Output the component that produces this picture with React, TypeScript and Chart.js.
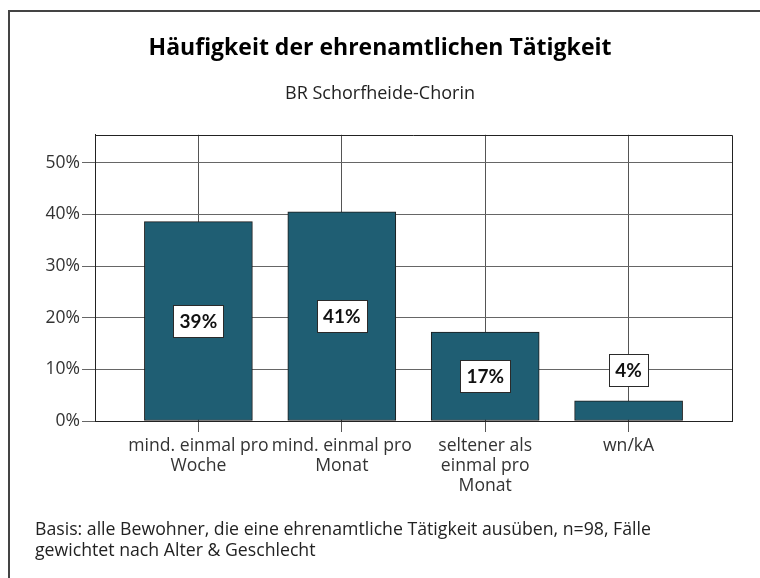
import React, { useEffect, useRef } from "react";
import { Chart, registerables } from "chart.js";

Chart.register(...registerables);

const categories: string[][] = [
  ["mind. einmal pro", "Woche"],
  ["mind. einmal pro", "Monat"],
  ["seltener als", "einmal pro", "Monat"],
  ["wn/kA"],
];
const values: number[] = [38.6, 40.5, 17.2, 3.9];
const valueLabels: string[] = ["39%", "41%", "17%", "4%"];
const yTickValues: number[] = [0, 10, 20, 30, 40, 50];
const titleText = "Häufigkeit der ehrenamtlichen Tätigkeit";
const subtitleText = "BR Schorfheide-Chorin";
const footerLines: string[] = [
  "Basis: alle Bewohner, die eine ehrenamtliche Tätigkeit ausüben, n=98, Fälle",
  "gewichtet nach Alter & Geschlecht",
];

const FONT = "'Open Sans', Lato, sans-serif";
const LABEL_FONT = "Lato, 'Open Sans', sans-serif";

const decorPlugin = {
  id: "decor",
  afterDatasetsDraw(chart: any) {
    const ctx = chart.ctx;
    const meta = chart.getDatasetMeta(0);
    ctx.save();
    ctx.font = `bold 19px ${LABEL_FONT}`;
    ctx.textAlign = "center";
    ctx.textBaseline = "middle";
    meta.data.forEach((bar: any, i: number) => {
      const { x, y, base } = bar.getProps(["x", "y", "base"], true);
      const text = valueLabels[i];
      const w = Math.round(ctx.measureText(text).width + 12);
      const h = 32;
      let cy = (y + base) / 2;
      if (base - y < h + 10) cy = y - 15 - h / 2;
      const left = Math.round(x - w / 2) + 0.5;
      const top = Math.round(cy - h / 2) + 0.5;
      ctx.fillStyle = "#ffffff";
      ctx.fillRect(left, top, w, h);
      ctx.strokeStyle = "#2a2a2a";
      ctx.lineWidth = 1;
      ctx.strokeRect(left, top, w, h);
      ctx.fillStyle = "#111111";
      ctx.fillText(text, x, cy + 1);
    });
    ctx.restore();
  },
  afterDraw(chart: any) {
    const ctx = chart.ctx;
    const a = chart.chartArea;
    ctx.save();
    ctx.strokeStyle = "#222222";
    ctx.lineWidth = 1;
    ctx.beginPath();
    ctx.moveTo(a.left, Math.round(a.top) + 0.5);
    ctx.lineTo(Math.round(a.right) + 0.5, Math.round(a.top) + 0.5);
    ctx.lineTo(Math.round(a.right) + 0.5, a.bottom);
    ctx.stroke();
    ctx.strokeStyle = "#444444";
    ctx.lineWidth = 2;
    ctx.beginPath();
    ctx.moveTo(9, chart.height);
    ctx.lineTo(9, 11);
    ctx.lineTo(chart.width, 11);
    ctx.stroke();
    ctx.fillStyle = "#222222";
    ctx.font = `17.7px ${FONT}`;
    ctx.textAlign = "left";
    ctx.textBaseline = "middle";
    footerLines.forEach((line, i) => {
      ctx.fillText(line, 35, 530 + i * 21);
    });
    ctx.restore();
  },
};

export default function App() {
  const ref = useRef<HTMLCanvasElement | null>(null);

  useEffect(() => {
    document.body.style.margin = "0";
    document.body.style.overflow = "hidden";
    const canvas = ref.current;
    if (!canvas) return;
    const chart = new Chart(canvas, {
      type: "bar",
      data: {
        datasets: [
          {
            data: values.map((v, i) => ({ x: i, y: v })),
            backgroundColor: "#1f5e73",
            borderColor: "#1c1c1c",
            borderWidth: 1,
            borderSkipped: false,
            barThickness: 108,
          },
        ],
      },
      options: {
        animation: false,
        responsive: false,
        devicePixelRatio: 1,
        layout: { padding: { top: 0, left: 0, right: 0, bottom: 0 } },
        plugins: {
          legend: { display: false },
          tooltip: { enabled: false },
          title: {
            display: true,
            text: titleText,
            color: "#000000",
            font: { family: FONT, size: 23, weight: "bold", lineHeight: 1.2 },
            padding: { top: 34.2, bottom: 21.2 },
          },
          subtitle: {
            display: true,
            text: subtitleText,
            color: "#222222",
            font: { family: FONT, size: 18, lineHeight: 1.2 },
            padding: { top: 0, bottom: 30.2 },
          },
        },
        scales: {
          x: {
            type: "linear",
            offset: false,
            min: -0.721,
            max: 3.721,
            afterBuildTicks: (scale: any) => {
              scale.ticks = categories.map((_, i) => ({ value: i }));
            },
            afterFit: (scale: any) => {
              scale.height = 157;
              scale.paddingRight = 28;
            },
            ticks: {
              autoSkip: false,
              maxRotation: 0,
              minRotation: 0,
              color: "#333333",
              padding: 4,
              font: { family: FONT, size: 17.6, lineHeight: 1.14 },
              callback: (value: any) => categories[Math.round(Number(value))] ?? "",
            },
            grid: {
              offset: false,
              color: "#555555",
              lineWidth: 1,
              tickLength: 11,
              drawTicks: true,
            },
            border: { color: "#222222", width: 1 },
          },
          y: {
            type: "linear",
            min: 0,
            max: 55.4,
            afterBuildTicks: (scale: any) => {
              scale.ticks = yTickValues.map((v) => ({ value: v }));
            },
            afterFit: (scale: any) => {
              scale.width = 95;
            },
            ticks: {
              color: "#333333",
              padding: 2,
              font: { family: FONT, size: 17.5 },
              callback: (value: any) => `${value}%`,
            },
            grid: {
              color: "#666666",
              lineWidth: 1,
              tickLength: 13,
            },
            border: { color: "#222222", width: 1 },
          },
        },
      },
      plugins: [decorPlugin],
    } as any);
    return () => chart.destroy();
  }, []);

  return (
    <div style={{ width: 760, height: 578, position: "relative" }}>
      <canvas ref={ref} width={760} height={578} style={{ width: 760, height: 578, display: "block" }} />
    </div>
  );
}
